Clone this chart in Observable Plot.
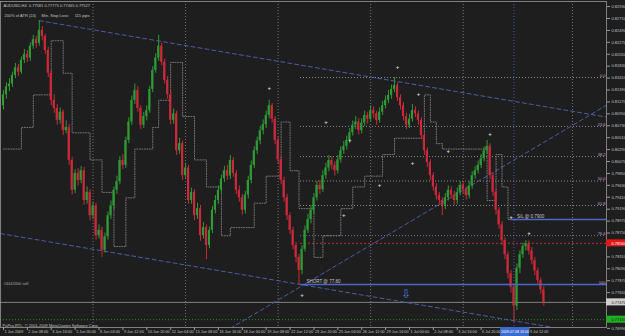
<!DOCTYPE html>
<html><head><meta charset="utf-8">
<script src="https://cdn.jsdelivr.net/npm/d3@7"></script>
<script src="https://cdn.jsdelivr.net/npm/@observablehq/plot@0.6"></script>
<style>
html,body{margin:0;padding:0;background:#1e1e1e;overflow:hidden}
#chart{width:625px;height:336px}
</style></head><body><div id="chart"></div>
<script>
// AUDUSD H4 candles, prices in pips (x 1e-4)
const O = [8110,8130,8145,8150,8166,8180,8172,8194,8205,8198,
8220,8232,8225,8249,8238,8212,8170,8120,8105,8083,
8098,8064,8070,8009,7954,7985,7972,7990,7935,7950,
7907,7925,7870,7880,7843,7868,7907,7925,7954,7970,
8009,8000,8046,8080,8120,8138,8105,8074,8090,8101,
8140,8175,8198,8220,8190,8157,8130,8083,8095,8027,
8040,7981,7995,7935,7950,7907,7920,7870,7885,7852,
7880,7917,7935,7954,7975,7990,7980,8009,7985,7954,
7940,7917,7945,7972,8000,8027,8045,8064,8075,8092,
8110,8085,8046,8010,7972,7940,7907,7880,7852,7830,
7806,7845,7880,7900,7917,7940,7963,7955,7981,7995,
8009,8000,7990,8010,8027,8035,8046,8060,8074,8080,
8064,8078,8092,8085,8101,8095,8083,8098,8110,8120,
8129,8140,8147,8125,8110,8090,8074,8085,8101,8095,
8083,8055,8027,8005,7981,7960,7944,7935,7926,7940,
7954,7945,7935,7950,7963,7955,7944,7962,7981,7990,
8000,8012,8027,8035,7981,7950,7917,7890,7861,7835,
7800,7775,7740,7810,7835,7850,7855,7842,7824,7805,
7787,7770];
const Hi = [8138,8152,8160,8172,8188,8186,8200,8214,8212,8226,
8240,8238,8267,8256,8242,8218,8176,8130,8112,8106,
8102,8082,8076,8015,7992,7994,7998,7996,7960,7955,
7932,7930,7890,7886,7875,7914,7934,7960,7980,8016,
8020,8052,8088,8128,8150,8145,8110,8098,8110,8146,
8182,8206,8240,8226,8196,8164,8136,8104,8100,8050,
8045,8004,8000,7958,7955,7930,7926,7894,7890,7886,
7924,7944,7962,7982,7998,8000,8018,8014,7990,7962,
7946,7952,7980,8008,8034,8052,8072,8084,8100,8120,
8114,8090,8052,8016,7978,7946,7912,7886,7858,7836,
7852,7888,7910,7926,7948,7970,7972,7990,8004,8018,
8016,8006,8018,8034,8044,8054,8068,8082,8090,8086,
8086,8100,8098,8110,8108,8100,8106,8118,8128,8138,
8148,8162,8152,8130,8116,8096,8094,8112,8108,8100,
8088,8060,8032,8010,7986,7966,7950,7940,7948,7962,
7960,7952,7958,7970,7968,7960,7970,7988,7998,8008,
8020,8034,8046,8040,7986,7956,7922,7896,7866,7840,
7806,7780,7818,7842,7856,7861,7860,7848,7830,7810,
7792,7776];
const Lo = [8102,8122,8136,8144,8160,8164,8168,8188,8190,8192,
8214,8216,8220,8230,8205,8162,8110,8096,8074,8076,
8055,8058,8000,7945,7948,7962,7966,7926,7928,7898,
7900,7862,7864,7830,7838,7862,7900,7918,7946,7964,
7992,7994,8040,8074,8112,8098,8066,8068,8082,8096,
8134,8170,8192,8184,8150,8122,8075,8076,8018,8020,
7972,7975,7928,7928,7898,7900,7860,7864,7826,7846,
7874,7910,7928,7948,7968,7972,7974,7978,7946,7932,
7908,7910,7938,7966,7994,8020,8038,8056,8068,8086,
8078,8038,8002,7964,7932,7898,7872,7844,7820,7780,
7798,7840,7874,7892,7910,7934,7946,7950,7974,7988,
7992,7980,7984,8004,8020,8028,8040,8054,8066,8056,
8058,8072,8076,8080,8086,8074,8078,8092,8104,8114,
8122,8134,8118,8102,8082,8066,8068,8080,8088,8074,
8048,8018,7996,7972,7952,7936,7926,7907,7918,7934,
7938,7926,7928,7944,7946,7936,7938,7956,7974,7984,
7994,8006,8020,7974,7942,7908,7882,7852,7826,7790,
7764,7710,7732,7800,7828,7842,7834,7816,7796,7778,
7762,7740];
const Cl = [8130,8145,8150,8166,8180,8172,8194,8205,8198,8220,
8232,8225,8249,8238,8212,8170,8120,8105,8083,8098,
8064,8070,8009,7954,7985,7972,7990,7935,7950,7907,
7925,7870,7880,7843,7868,7907,7925,7954,7970,8009,
8000,8046,8080,8120,8138,8105,8074,8090,8101,8140,
8175,8198,8220,8190,8157,8130,8083,8095,8027,8040,
7981,7995,7935,7950,7907,7920,7870,7885,7852,7880,
7917,7935,7954,7975,7990,7980,8009,7985,7954,7940,
7917,7945,7972,8000,8027,8045,8064,8075,8092,8110,
8085,8046,8010,7972,7940,7907,7880,7852,7830,7806,
7845,7880,7900,7917,7940,7963,7955,7981,7995,8009,
8000,7990,8010,8027,8035,8046,8060,8074,8080,8064,
8078,8092,8085,8101,8095,8083,8098,8110,8120,8129,
8140,8147,8125,8110,8090,8074,8085,8101,8095,8083,
8055,8027,8005,7981,7960,7944,7935,7926,7940,7954,
7945,7935,7950,7963,7955,7944,7962,7981,7990,8000,
8012,8027,8035,7981,7950,7917,7890,7861,7835,7800,
7775,7740,7810,7835,7850,7855,7842,7824,7805,7787,
7770,7747];

// ATR trailing stop (step line): start bar and level (pips)
const stopBar = [0,6,10,16,20,23,29,33,37,41,44,50,52,56,60,64,68,73,76,84,88,93,96,99,104,107,113,117,121,127,131,141,143,145,147,162,165,167,169,182];
const stopVal = [8030,8070,8130,8230,8170,8060,8010,7950,7850,7940,8030,8070,8120,8190,8090,8010,7960,7870,7885,7930,7980,8080,7990,7920,7830,7870,7920,7960,7980,8020,8050,8130,8080,8040,8030,7935,8020,7960,7900,7900];

// fractal "+" markers
const fracBar = [89,108,116,132,139,149,137,163,126,114,170,176,100];
const fracVal = [8142,8079,8046,8181,8131,8026,8005,8057,7963,7909,7904,7874,7760];

// Fibonacci retracement
const fibLevels = [0,23.6,38.2,50,61.8,76.4,100];
const fibHigh = 0.8162, fibLow = 0.7780, fibStartBar = 99.5;

// trendlines [bar, price]
const trendA = [[12,0.8267],[202,0.8089]];
const trendB = [[-1,0.7874],[202,0.7684]];
const trendC = [[76,0.7699],[202,0.8111]];

// horizontal levels
const shortPrice = 0.7780, shortBar = 99.5;
const slPrice = 0.7900, slBar = 170;
const redLevel = 0.7856, bidLevel = 0.7747, greenLevel = 0.7715;

// separators / verticals
const sepBars = [30,61,92,123,154,190.6];
const markBar = 171;

// axis ticks
const yTicks = [0.82930,0.82710,0.82490,0.82270,0.82050,0.81830,0.81610,0.81390,0.81170,0.80950,0.80730,0.80510,0.80290,0.80070,0.79850,0.79630,0.79410,0.79190,0.78970,0.78750,0.78310,0.78090,0.77870,0.77650,0.76990];
const xTickBars = [0,8,16,24,32,40,48,56,64,72,80,88,96,104,112,120,128,136,144,152,160,176];
const xTickLabels = ["1 Jun 2009","2 Jun 08:00","3 Jun 16:00","5 Jun 00:00","8 Jun 04:00","9 Jun 12:00","10 Jun 20:00","12 Jun 04:00","15 Jun 08:00","16 Jun 16:00","18 Jun 00:00","19 Jun 08:00","22 Jun 12:00","23 Jun 20:00","25 Jun 04:00","26 Jun 12:00","29 Jun 16:00","1 Jul 00:00","2 Jul 08:00","3 Jul 16:00","6 Jul 20:00","9 Jul 12:00"];

const title1 = "AUDUSD,H4  0.77581 0.77775 0.77465 0.77527";
const title2 = "200% of ATR (24)     Min. Stop Loss:     115 pips";
const copyright = "PaPro-RTL, \u00a9 2001-2009 MetaQuotes Software Corp.";
const orderLabel = "#4445300 sell";

const up = "#2f9a36", dn = "#cc2a3a", txt = "#c4c4c4", tl = "#4d5c9e";
const bars = Cl.map((c,i)=>({i, o:O[i]/1e4, h:Hi[i]/1e4, l:Lo[i]/1e4, c:c/1e4}));
const stopPts = stopBar.map((b,k)=>({b, v: stopVal[k]/1e4}));
const fib = fibLevels.map(p=>({p, v: fibHigh-(fibHigh-fibLow)*p/100}));
const fracs = fracBar.map((b,k)=>({b, v: fracVal[k]/1e4}));
const seg = a => a.map(([b,v])=>({b,v}));
const fs = 4;

const chart = Plot.plot({
  width:625, height:336, marginLeft:0, marginRight:19, marginTop:1, marginBottom:9,
  style:{background:"#1e1e1e", color:txt, fontFamily:"'Liberation Sans', Arial, sans-serif"},
  x:{type:"linear", domain:[-1,202], axis:null},
  y:{type:"linear", domain:[0.77006,0.83024], axis:null},
  marks:[
    Plot.ruleX(sepBars, {x:d=>d, stroke:"#8a8a8a", strokeDasharray:"1,2", strokeWidth:0.8}),
    Plot.ruleX([markBar], {x:d=>d, stroke:"#5060b8", strokeDasharray:"1,2", strokeWidth:0.9}),
    Plot.ruleY([bidLevel], {y:d=>d, stroke:"#9a9a9a", strokeWidth:0.8}),
    Plot.ruleY([greenLevel], {y:d=>d, stroke:"#2e9a2e", strokeDasharray:"1,2", strokeWidth:0.9}),
    Plot.ruleY(fib, {y:"v", x1:()=>fibStartBar, x2:()=>202, stroke:d=>d.p===76.4||d.p===100?"#9088c0":"#a8a8a8", strokeDasharray:"1,2", strokeWidth:0.8}),
    Plot.ruleY([redLevel], {y:d=>d, x1:()=>shortBar, x2:()=>202, stroke:"#c8303a", strokeDasharray:"2,2", strokeWidth:0.9}),
    Plot.line(seg(trendA), {x:"b", y:"v", stroke:tl, strokeDasharray:"4,3", strokeWidth:1, clip:true}),
    Plot.line(seg(trendB), {x:"b", y:"v", stroke:tl, strokeDasharray:"4,3", strokeWidth:1, clip:true}),
    Plot.line(seg(trendC), {x:"b", y:"v", stroke:tl, strokeDasharray:"4,3", strokeWidth:1, clip:true}),
    Plot.line(stopPts, {x:"b", y:"v", curve:"step-after", stroke:"#8c8c8c", strokeDasharray:"1,1.5", strokeWidth:0.8}),
    Plot.ruleX(bars, {x:"i", y1:"l", y2:"h", stroke:d=>d.c>=d.o?up:dn, strokeWidth:1}),
    Plot.rect(bars, {x1:d=>d.i-0.36, x2:d=>d.i+0.36, y1:"o", y2:"c", fill:d=>d.c>=d.o?up:dn}),
    Plot.ruleY([shortPrice], {y:d=>d, x1:()=>shortBar, x2:()=>202, stroke:"#4a68c4", strokeWidth:1.4}),
    Plot.ruleY([slPrice], {y:d=>d, x1:()=>slBar, x2:()=>202, stroke:"#4a68c4", strokeWidth:1.4}),
    Plot.text(fracs, {x:"b", y:"v", text:()=>"+", fill:"#d8d8d8", fontSize:6, fontWeight:"bold"}),
    Plot.text(fib, {x:()=>202, y:"v", text:d=>d.p===0?"0.0":d.p===100?"100":d.p.toFixed(1), textAnchor:"end", dx:-1, dy:-2, fill:"#c8a0cc", fontSize:fs}),
    Plot.text([shortPrice], {x:()=>shortBar+2, y:d=>d, text:()=>"SHORT @ 77.80", textAnchor:"start", dy:-3, fill:txt, fontSize:4.5}),
    Plot.text([slPrice], {x:()=>slBar+2, y:d=>d, text:()=>"S/L @ 0.7900", textAnchor:"start", dy:-3, fill:txt, fontSize:4.5}),
    Plot.text([0.7762], {x:()=>135, y:d=>d, text:()=>"\u21e9", fill:"#4a80e0", fontSize:12}),
    Plot.text([shortPrice], {x:()=>0, y:d=>d, text:()=>orderLabel, textAnchor:"start", dy:-1, fill:"#a8a8a8", fontSize:fs}),
    Plot.text([title1], {frameAnchor:"top-left", text:d=>d, dx:3, dy:3, fill:txt, fontSize:fs}),
    Plot.text([title2], {frameAnchor:"top-left", text:d=>d, dx:4, dy:13, fill:txt, fontSize:fs}),
    Plot.text([copyright], {frameAnchor:"bottom-left", text:d=>d, dx:2, dy:-1, fill:txt, fontSize:fs}),
    Plot.frame({stroke:"#9a9a9a", strokeWidth:0.8}),
    Plot.axisY(yTicks, {anchor:"right", tickSize:3, tickPadding:2, tickFormat:d=>d.toFixed(5), fontSize:fs, color:txt, stroke:"#9a9a9a", label:null}),
    Plot.rect([redLevel], {x1:()=>202, x2:()=>210.5, y1:d=>d-0.00065, y2:d=>d+0.00065, fill:"#e01818"}),
    Plot.text([redLevel], {x:()=>202, y:d=>d, text:d=>d.toFixed(5), textAnchor:"start", dx:5, fill:"#ffffff", fontSize:fs}),
    Plot.rect([bidLevel], {x1:()=>202, x2:()=>210.5, y1:d=>d-0.00065, y2:d=>d+0.00065, fill:"#d0d0d0"}),
    Plot.text([bidLevel], {x:()=>202, y:d=>d, text:d=>d.toFixed(5), textAnchor:"start", dx:5, fill:"#202020", fontSize:fs}),
    Plot.rect([greenLevel], {x1:()=>202, x2:()=>210.5, y1:d=>d-0.00065, y2:d=>d+0.00065, fill:"#22b022"}),
    Plot.text([greenLevel], {x:()=>202, y:d=>d, text:d=>d.toFixed(5), textAnchor:"start", dx:5, fill:"#102010", fontSize:fs}),
    Plot.axisX(xTickBars, {anchor:"bottom", tickSize:3, tickFormat:()=>"", stroke:"#9a9a9a", label:null}),
    Plot.text(xTickBars, {x:d=>d, text:(d,i)=>xTickLabels[i], frameAnchor:"bottom", dy:5, dx:1, textAnchor:"start", fill:txt, fontSize:3.8}),
    Plot.rect([markBar], {x1:d=>d-4.5, x2:d=>d+5.2, insetTop:326, insetBottom:-9, fill:"#3b6ad0"}),
    Plot.text([markBar], {x:d=>d, text:()=>"2009.07.08 16:00", frameAnchor:"bottom", dy:5, dx:1, fill:"#ffffff", fontSize:3.6})
  ]
});
document.getElementById("chart").appendChild(chart);
</script></body></html>
